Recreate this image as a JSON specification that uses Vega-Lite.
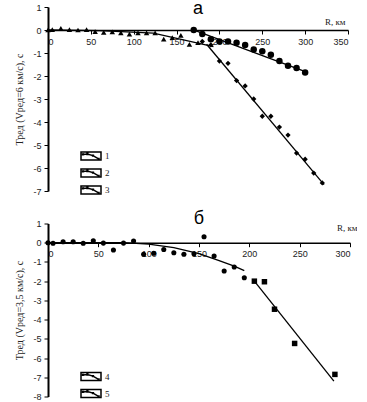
{
  "$schema": "https://vega.github.io/schema/vega-lite/v6.json",
  "padding": {"left": 14, "top": 0, "right": 0, "bottom": 0},
  "autosize": {"type": "pad"},
  "config": {
    "view": {"stroke": null},
    "font": "Liberation Sans",
    "axis": {"labelFont": "Liberation Sans", "labelFontSize": 9, "labelColor": "#222", "domainColor": "#000", "tickColor": "#000", "grid": false, "titleFont": "Liberation Serif", "titleFontSize": 10, "titleFontWeight": "normal", "titleColor": "#222", "labelOverlap": false},
    "title": {"font": "Liberation Sans", "fontSize": 18, "fontWeight": "normal", "color": "#000"},
    "concat": {"spacing": 12.5}
  },
  "resolve": {"scale": {"color": "independent", "x": "independent", "y": "independent"}, "legend": {"color": "independent"}},
  "datasets": {
    "ptsA": [
      {"R": 0, "T": 0, "g": "1"}, {"R": 5, "T": 0.02, "g": "1"}, {"R": 15, "T": 0.07, "g": "1"}, {"R": 25, "T": 0.02, "g": "1"}, {"R": 35, "T": 0.0, "g": "1"}, {"R": 45, "T": 0.02, "g": "1"}, {"R": 55, "T": -0.07, "g": "1"}, {"R": 65, "T": -0.1, "g": "1"}, {"R": 75, "T": -0.08, "g": "1"}, {"R": 85, "T": -0.13, "g": "1"}, {"R": 95, "T": -0.18, "g": "1"}, {"R": 105, "T": -0.12, "g": "1"}, {"R": 115, "T": -0.12, "g": "1"}, {"R": 125, "T": -0.13, "g": "1"}, {"R": 135, "T": -0.4, "g": "1"}, {"R": 145, "T": -0.33, "g": "1"}, {"R": 155, "T": -0.23, "g": "1"}, {"R": 165, "T": -0.63, "g": "1"}, {"R": 175, "T": -0.55, "g": "1"},
      {"R": 170, "T": 0.0, "g": "2"}, {"R": 180, "T": -0.17, "g": "2"}, {"R": 190, "T": -0.4, "g": "2"}, {"R": 200, "T": -0.5, "g": "2"}, {"R": 210, "T": -0.5, "g": "2"}, {"R": 220, "T": -0.55, "g": "2"}, {"R": 230, "T": -0.65, "g": "2"}, {"R": 240, "T": -0.85, "g": "2"}, {"R": 250, "T": -0.92, "g": "2"}, {"R": 260, "T": -1.08, "g": "2"}, {"R": 270, "T": -1.35, "g": "2"}, {"R": 280, "T": -1.55, "g": "2"}, {"R": 290, "T": -1.65, "g": "2"}, {"R": 300, "T": -1.85, "g": "2"},
      {"R": 180, "T": -0.5, "g": "3"}, {"R": 190, "T": -0.65, "g": "3"}, {"R": 200, "T": -1.35, "g": "3"}, {"R": 210, "T": -1.45, "g": "3"}, {"R": 220, "T": -2.2, "g": "3"}, {"R": 230, "T": -2.43, "g": "3"}, {"R": 240, "T": -3.0, "g": "3"}, {"R": 250, "T": -3.75, "g": "3"}, {"R": 260, "T": -3.75, "g": "3"}, {"R": 270, "T": -4.22, "g": "3"}, {"R": 280, "T": -4.57, "g": "3"}, {"R": 290, "T": -5.35, "g": "3"}, {"R": 300, "T": -5.62, "g": "3"}, {"R": 310, "T": -6.22, "g": "3"}, {"R": 320, "T": -6.65, "g": "3"}
    ],
    "fitA": [
      {"R": 0, "T": 0, "s": "1"}, {"R": 60, "T": -0.03, "s": "1"}, {"R": 123, "T": -0.14, "s": "1"}, {"R": 193, "T": -0.72, "s": "1"},
      {"R": 172, "T": -0.03, "s": "2"}, {"R": 301, "T": -1.82, "s": "2"},
      {"R": 185, "T": -0.62, "s": "3"}, {"R": 322, "T": -6.72, "s": "3"}
    ],
    "ptsB": [
      {"R": 0, "T": 0, "g": "4"}, {"R": 5, "T": -0.03, "g": "4"}, {"R": 15, "T": 0.05, "g": "4"}, {"R": 25, "T": 0.05, "g": "4"}, {"R": 35, "T": -0.03, "g": "4"}, {"R": 45, "T": 0.1, "g": "4"}, {"R": 55, "T": -0.02, "g": "4"}, {"R": 65, "T": -0.38, "g": "4"}, {"R": 75, "T": -0.02, "g": "4"}, {"R": 85, "T": 0.09, "g": "4"}, {"R": 95, "T": -0.6, "g": "4"}, {"R": 105, "T": -0.55, "g": "4"}, {"R": 115, "T": -0.35, "g": "4"}, {"R": 125, "T": -0.52, "g": "4"}, {"R": 135, "T": -0.6, "g": "4"}, {"R": 145, "T": -0.57, "g": "4"}, {"R": 155, "T": 0.31, "g": "4"}, {"R": 165, "T": -0.69, "g": "4"}, {"R": 175, "T": -1.47, "g": "4"}, {"R": 185, "T": -1.26, "g": "4"}, {"R": 195, "T": -1.82, "g": "4"},
      {"R": 205, "T": -2.0, "g": "5"}, {"R": 215, "T": -2.03, "g": "5"}, {"R": 225, "T": -3.46, "g": "5"}, {"R": 245, "T": -5.24, "g": "5"}, {"R": 285, "T": -6.85, "g": "5"}
    ],
    "fitB": [
      {"R": 0, "T": 0, "s": "4"}, {"R": 75, "T": 0, "s": "4"}, {"R": 100, "T": -0.07, "s": "4"}, {"R": 125, "T": -0.26, "s": "4"}, {"R": 150, "T": -0.57, "s": "4"}, {"R": 170, "T": -0.93, "s": "4"}, {"R": 185, "T": -1.22, "s": "4"}, {"R": 195, "T": -1.45, "s": "4"},
      {"R": 205, "T": -2.0, "s": "5"}, {"R": 284, "T": -7.2, "s": "5"}
    ]
  },
  "vconcat": [
    {
      "width": 300,
      "height": 184,
      "title": {"text": "а", "offset": -15, "anchor": "middle"},
      "encoding": {
        "x": {"field": "R", "type": "quantitative", "scale": {"domain": [0, 350], "nice": false},
              "axis": {"values": [0, 50, 100, 150, 200, 250, 300, 350], "offset": -161, "tickSize": 4, "labelPadding": 3, "domainWidth": 1.5, "labelOverlap": false, "title": "R, км", "titleX": 297, "titleY": -6, "titleAlign": "right", "titleBaseline": "alphabetic", "titleFontSize": 9, "labelExpr": "toString(datum.value)"}},
        "y": {"field": "T", "type": "quantitative", "scale": {"domain": [-7, 1], "nice": false},
              "axis": {"values": [-7, -6, -5, -4, -3, -2, -1, 0, 1], "labelOverlap": false, "title": "Тред (Vред=6 км/с), с", "tickSize": 4, "labelPadding": 3, "domainWidth": 2, "titlePadding": 8, "labelExpr": "toString(datum.value)"}}
      },
      "layer": [
        {
          "data": {"name": "fitA"},
          "mark": {"type": "line", "strokeWidth": 1.3},
          "encoding": {
            "color": {"field": "s", "type": "nominal", "scale": {"domain": ["1", "2", "3"], "range": ["black", "black", "black"]},
                      "legend": {"title": null, "orient": "none", "legendX": 34, "legendY": 140, "padding": 0, "rowPadding": 1,
                                 "symbolType": "M-1.25,-0.5H1.25V0.5H-1.25Z M-1,-0.2L-0.45,-0.25L0.25,-0.05L0.95,0.35 M-1.05,-0.25h0.1v0.1h-0.1Z M-0.5,-0.3h0.1v0.1h-0.1Z M0.2,-0.1h0.1v0.1h-0.1Z M0.9,0.3h0.1v0.1h-0.1Z",
                                 "symbolSize": 256, "symbolStrokeWidth": 1.5, "labelFont": "Liberation Serif", "labelFontSize": 9, "labelColor": "#222", "labelOffset": 5,
                                 "encode": {"symbols": {"update": {"fill": {"value": "white"}, "stroke": {"value": "black"}, "strokeWidth": {"value": 1.5}, "opacity": {"value": 1}}}}}}
          }
        },
        {
          "data": {"name": "ptsA"},
          "transform": [{"filter": "datum.g === '1'"}],
          "mark": {"type": "point", "filled": true, "opacity": 1, "color": "black", "shape": "triangle-up", "size": 30}
        },
        {
          "data": {"name": "ptsA"},
          "transform": [{"filter": "datum.g === '2'"}],
          "mark": {"type": "point", "filled": true, "opacity": 1, "color": "black", "shape": "circle", "size": 42}
        },
        {
          "data": {"name": "ptsA"},
          "transform": [{"filter": "datum.g === '3'"}],
          "mark": {"type": "point", "filled": true, "opacity": 1, "color": "black", "shape": "diamond", "size": 28}
        }
      ]
    },
    {
      "width": 302,
      "height": 173,
      "title": {"text": "б", "offset": -8, "anchor": "middle"},
      "encoding": {
        "x": {"field": "R", "type": "quantitative", "scale": {"domain": [0, 300], "nice": false},
              "axis": {"values": [0, 50, 100, 150, 200, 250, 300], "offset": -153.8, "tickSize": 4, "labelPadding": 3, "domainWidth": 1.5, "labelOverlap": false, "title": "R, км", "titleX": 309, "titleY": -12, "titleAlign": "right", "titleBaseline": "alphabetic", "titleFontSize": 9, "labelExpr": "toString(datum.value)"}},
        "y": {"field": "T", "type": "quantitative", "scale": {"domain": [-8, 1], "nice": false},
              "axis": {"values": [-8, -7, -6, -5, -4, -3, -2, -1, 0, 1], "labelOverlap": false, "title": "Тред (Vред=3,5 км/с), с", "tickSize": 4, "labelPadding": 3, "domainWidth": 2, "titlePadding": 8, "labelExpr": "toString(datum.value)"}}
      },
      "layer": [
        {
          "data": {"name": "fitB"},
          "mark": {"type": "line", "strokeWidth": 1.3},
          "encoding": {
            "color": {"field": "s", "type": "nominal", "scale": {"domain": ["4", "5"], "range": ["black", "black"]},
                      "legend": {"title": null, "orient": "none", "legendX": 34, "legendY": 144, "padding": 0, "rowPadding": 1,
                                 "symbolType": "M-1.25,-0.5H1.25V0.5H-1.25Z M-1,-0.2L-0.45,-0.25L0.25,-0.05L0.95,0.35 M-1.05,-0.25h0.1v0.1h-0.1Z M-0.5,-0.3h0.1v0.1h-0.1Z M0.2,-0.1h0.1v0.1h-0.1Z M0.9,0.3h0.1v0.1h-0.1Z",
                                 "symbolSize": 256, "symbolStrokeWidth": 1.5, "labelFont": "Liberation Serif", "labelFontSize": 9, "labelColor": "#222", "labelOffset": 5,
                                 "encode": {"symbols": {"update": {"fill": {"value": "white"}, "stroke": {"value": "black"}, "strokeWidth": {"value": 1.5}, "opacity": {"value": 1}}}}}}
          }
        },
        {
          "data": {"name": "ptsB"},
          "transform": [{"filter": "datum.g === '4'"}],
          "mark": {"type": "point", "filled": true, "opacity": 1, "color": "black", "shape": "circle", "size": 26}
        },
        {
          "data": {"name": "ptsB"},
          "transform": [{"filter": "datum.g === '5'"}],
          "mark": {"type": "point", "filled": true, "opacity": 1, "color": "black", "shape": "square", "size": 30}
        }
      ]
    }
  ]
}
